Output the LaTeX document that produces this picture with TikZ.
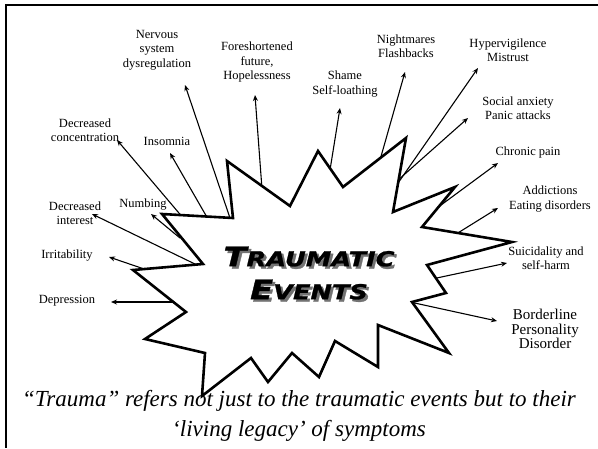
\documentclass[tikz,border=0pt]{standalone}
\usepackage{fontspec}
\setmainfont{Liberation Serif}
\newfontfamily\titlefont[FakeStretch=1.25,FakeBold=1.2]{DejaVu Sans}
\usetikzlibrary{arrows.meta}

\begin{document}
\begin{tikzpicture}[
    x=1pt, y=-1pt,
    burst width/.store in=\burstw, burst width=2.6pt,
    lbl/.style={align=center, inner sep=0pt, font=\fontsize{12.5}{14.5}\selectfont},
    arr/.style={line width=1.1pt, -{Stealth[length=6pt,width=5pt]}},
    headline/.style={align=center, inner sep=0pt, font=\titlefont\bfseries\itshape\fontsize{20.5}{33}\selectfont}
]
\useasboundingbox (0,0) rectangle (598,448);

% Helper macro for one symptom: arrow out of the burst and its label
\newcommand{\symptom}[5]{% name, tail, head, label position, text
    \coordinate (#1-t) at (#2);
    \coordinate (#1-h) at (#3);
    \draw[arr] (#1-t) -- (#1-h);
    \node[lbl] (#1) at (#4) {#5};
}
% Helper macro for a word in fake small caps
\newcommand{\capword}[2]{{\fontsize{27}{33}\selectfont #1}#2}

% Frame (top and left edge only)
\draw[line width=2.8pt] (598,5) -- (6,5) -- (6,448);

% Left side symptoms
\symptom{nerv}{231,221}{185,85}{157,50}{Nervous\\system\\dysregulation}
\symptom{conc}{184,219}{117,140}{85,130}{Decreased\\concentration}
\symptom{insom}{208,219}{170,153}{167,141}{Insomnia}
\symptom{intr}{197,265}{92,214}{75,213}{Decreased\\interest}
\symptom{numb}{180,238}{151,214}{143,205}{Numbing}
\symptom{irrit}{150,271}{109,257}{67,256}{Irritability}
\symptom{depr}{176,302}{111,302}{67,301}{Depression}

% Top symptoms
\symptom{fore}{262,189}{255,95}{257,62}{Foreshortened\\future,\\Hopelessness}
\symptom{shame}{330,170}{340,108}{345,84}{Shame\\Self-loathing}
\symptom{night}{380,160}{405,72}{406,46}{Nightmares\\Flashbacks}

% Right side symptoms
\symptom{hyper}{396,186}{478,68}{508,50}{Hypervigilence\\Mistrust}
\symptom{social}{397,181}{468,118}{518,108}{Social anxiety\\Panic attacks}
\symptom{chron}{437,208}{498,163}{528,152}{Chronic pain}
\symptom{addict}{453,236}{498,208}{550,199}{Addictions\\Eating disorders}
\symptom{suic}{432,279}{507,263}{546,258}{Suicidality and\\self-harm}
\symptom{bord}{410,302}{497,321}{545,329}{\fontsize{15}{18}\selectfont Borderline\\\fontsize{15}{18}\selectfont Personality\\\fontsize{15}{18}\selectfont Disorder}

% The burst
\draw[line width=\burstw, fill=white, line join=miter]
    (162,214) -- (233,218) -- (227,161) -- (290,206) -- (318,151)
    -- (343,187) -- (406,138) -- (393,212) -- (455,187) -- (422,227)
    -- (512,242) -- (427,265) -- (446,293) -- (412,302) -- (449,353)
    -- (378,325) -- (378,367) -- (335,341) -- (319,377) -- (292,353)
    -- (268,382) -- (251,358) -- (202,396) -- (205,353) -- (145,339)
    -- (186,312) -- (133,270) -- (203,264) -- cycle;

% Title with its shadow
\node[headline, text=black!55] (shadow) at (311.5,275.5) {\capword{T}{RAUMATIC}\\\capword{E}{VENTS}};
\node[headline] (title) at (309,273) {\capword{T}{RAUMATIC}\\\capword{E}{VENTS}};

% Caption
\node[align=center, inner sep=0pt, font=\itshape\fontsize{23}{30}\selectfont] (caption) at (299,416)
    {“Trauma” refers not just to the traumatic events but to their\\‘living legacy’ of symptoms};

\end{tikzpicture}
\end{document}
